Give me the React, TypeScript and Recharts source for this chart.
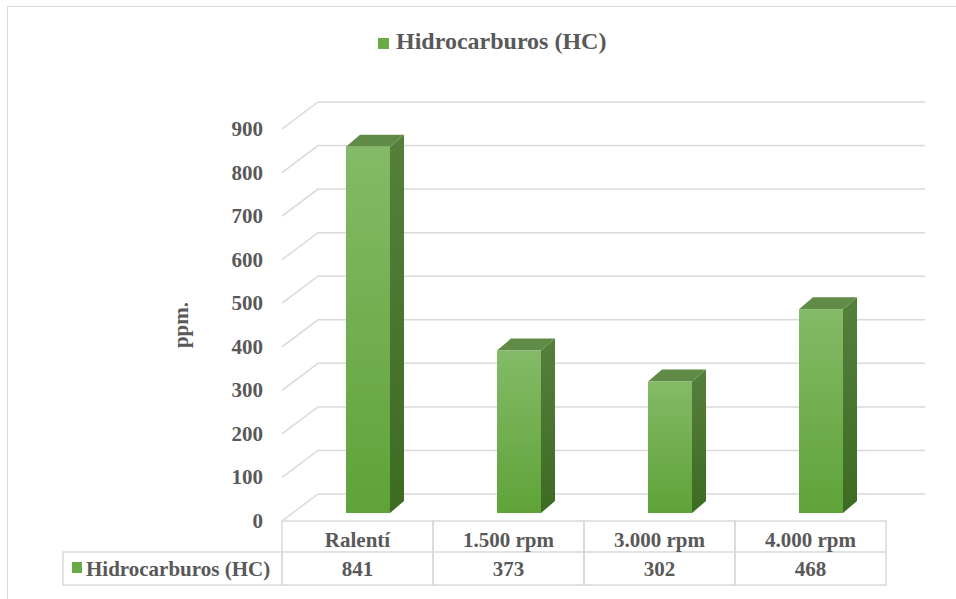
import { BarChart, Bar, XAxis, YAxis, CartesianGrid } from 'recharts'

const categories = ['Ralentí', '1.500 rpm', '3.000 rpm', '4.000 rpm']
const hcValues = [841, 373, 302, 468]
const yTicks = [0, 100, 200, 300, 400, 500, 600, 700, 800, 900]
const seriesName = 'Hidrocarburos (HC)'

const data = categories.map((name, i) => ({ name, hc: hcValues[i] }))

// layout (px)
const W = 956
const H = 599
const PLOT_LEFT = 282
const PLOT_RIGHT = 886
const PLOT_TOP = 121
const PLOT_BOTTOM = 513
const BACK_RIGHT = 925
const DEPTH_X = 36
const DEPTH_Y = 27
const FRONT_DY = 8
const CELL_W = (PLOT_RIGHT - PLOT_LEFT) / categories.length
const TABLE_TOP = 521
const TABLE_MID = 552
const TABLE_BOTTOM = 585
const HEADER_LEFT = 63

const TEXT = '#595959'
const LINE = '#d9d9d9'
const FONT = '"Liberation Serif", "Times New Roman", serif'

function GridLine(props: any) {
  const y = props.y1
  return (
    <path
      key={props.key}
      d={`M${PLOT_LEFT},${y + FRONT_DY} L${PLOT_LEFT + DEPTH_X},${y + FRONT_DY - DEPTH_Y} L${BACK_RIGHT},${y + FRONT_DY - DEPTH_Y}`}
      fill="none"
      stroke={LINE}
      strokeWidth={1.5}
    />
  )
}

function YTick({ y, payload }: any) {
  return (
    <text x={263} y={y + 15} textAnchor="end" fontFamily={FONT} fontWeight="bold" fontSize={21} fill={TEXT}>
      {payload.value}
    </text>
  )
}

function TableTick({ x, index }: any) {
  const l = x - CELL_W / 2
  const r = x + CELL_W / 2
  return (
    <g>
      {index === 0 && (
        <g>
          <rect x={HEADER_LEFT} y={TABLE_MID} width={PLOT_LEFT - HEADER_LEFT} height={TABLE_BOTTOM - TABLE_MID} fill="none" stroke={LINE} strokeWidth={1.5} />
          <rect x={72} y={562} width={10} height={11} fill="#6aab45" />
          <text x={86} y={576} fontFamily={FONT} fontWeight="bold" fontSize={21} fill={TEXT}>
            {seriesName}
          </text>
        </g>
      )}
      <rect x={l} y={TABLE_TOP} width={CELL_W} height={TABLE_BOTTOM - TABLE_TOP} fill="none" stroke={LINE} strokeWidth={1.5} />
      <line x1={l} x2={r} y1={TABLE_MID} y2={TABLE_MID} stroke={LINE} strokeWidth={1.5} />
      <text x={x} y={547} textAnchor="middle" fontFamily={FONT} fontWeight="bold" fontSize={21} fill={TEXT}>
        {categories[index]}
      </text>
      <text x={x} y={576} textAnchor="middle" fontFamily={FONT} fontWeight="bold" fontSize={21} fill={TEXT}>
        {hcValues[index]}
      </text>
    </g>
  )
}

function Bar3D({ x, y, width, height }: any) {
  const fx = x + 10
  const dx = 14
  const dy = 12
  return (
    <g>
      <polygon
        points={`${fx + width},${y} ${fx + width + dx},${y - dy} ${fx + width + dx},${y + height - dy} ${fx + width},${y + height}`}
        fill="url(#hcSide)"
      />
      <polygon points={`${fx},${y} ${fx + dx},${y - dy} ${fx + width + dx},${y - dy} ${fx + width},${y}`} fill="#5f8b46" />
      <rect x={fx} y={y} width={width} height={height} fill="url(#hcFront)" />
    </g>
  )
}

function PpmLabel() {
  return (
    <text
      x={188}
      y={325}
      transform="rotate(-90 188 325)"
      textAnchor="middle"
      fontFamily={FONT}
      fontWeight="bold"
      fontSize={21}
      fill={TEXT}
    >
      ppm.
    </text>
  )
}

export default function App() {
  return (
    <div style={{ position: 'absolute', left: 0, top: 0, width: W, height: H, overflow: 'hidden', background: '#fff' }}>
      <div
        style={{
          position: 'absolute',
          left: 7,
          top: 6,
          width: 1100,
          height: 800,
          border: `1.5px solid ${LINE}`,
          boxSizing: 'border-box',
        }}
      />
      <div
        style={{
          position: 'absolute',
          left: 378,
          top: 27,
          fontFamily: FONT,
          fontWeight: 'bold',
          fontSize: 24,
          color: TEXT,
          whiteSpace: 'nowrap',
          lineHeight: '28px',
        }}
      >
        <span style={{ display: 'inline-block', width: 11, height: 11, background: '#6aab45', marginRight: 7 }} />
        {seriesName}
      </div>
      <div style={{ position: 'absolute', left: 0, top: 0 }}>
        <BarChart
          width={W}
          height={H}
          data={data}
          margin={{ top: PLOT_TOP, right: W - PLOT_RIGHT, left: 0, bottom: 0 }}
          barSize={44}
        >
          <defs>
            <linearGradient id="hcFront" x1="0" y1="0" x2="0" y2="1">
              <stop offset="0%" stopColor="#84ba67" />
              <stop offset="100%" stopColor="#5fa338" />
            </linearGradient>
            <linearGradient id="hcSide" x1="0" y1="0" x2="0" y2="1">
              <stop offset="0%" stopColor="#55803c" />
              <stop offset="100%" stopColor="#3d6b22" />
            </linearGradient>
          </defs>
          <CartesianGrid vertical={false} horizontal={GridLine} />
          <XAxis
            dataKey="name"
            axisLine={false}
            tickLine={false}
            interval={0}
            height={H - PLOT_BOTTOM}
            tick={<TableTick />}
          />
          <YAxis
            type="number"
            domain={[0, 900]}
            ticks={yTicks}
            axisLine={false}
            tickLine={false}
            width={PLOT_LEFT}
            tick={<YTick />}
            label={<PpmLabel />}
          />
          <Bar dataKey="hc" shape={<Bar3D />} isAnimationActive={false} />
        </BarChart>
      </div>
    </div>
  )
}
